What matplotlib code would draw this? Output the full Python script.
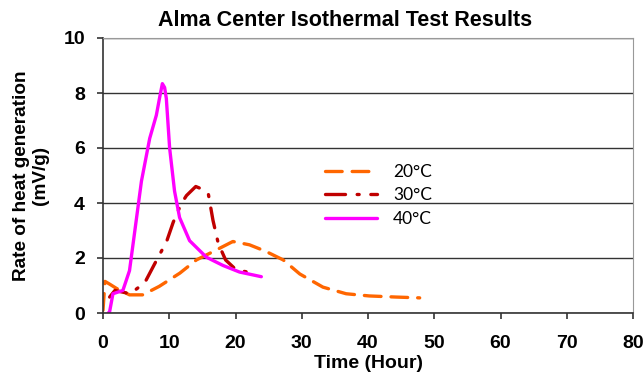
import matplotlib
matplotlib.use("Agg")
import matplotlib.pyplot as plt

plt.rcParams['font.family'] = ['Liberation Sans', 'DejaVu Sans']

t20 = [0.0, 0.3, 1.0, 2.0, 4.0, 6.0, 8.5, 11.6, 14.1, 16.6, 19.6, 22.1, 24.5, 27.2, 29.7, 33.2, 36.7, 40.2, 44.2, 47.8]
y20 = [0.1, 1.15, 1.05, 0.9, 0.66, 0.66, 0.97, 1.45, 1.93, 2.23, 2.6, 2.48, 2.25, 1.93, 1.42, 0.94, 0.7, 0.62, 0.58, 0.55]

t30 = [1.0, 1.8, 4.1, 6.3, 8.0, 9.6, 10.6, 11.8, 12.6, 14.0, 15.0, 15.9, 16.6, 17.4, 18.5, 20.1, 21.6]
y30 = [0.58, 0.82, 0.7, 1.1, 1.88, 2.6, 3.3, 3.97, 4.27, 4.6, 4.5, 4.33, 3.37, 2.53, 1.93, 1.57, 1.5]

t40 = [0.8, 1.0, 1.5, 3.0, 4.0, 4.8, 5.8, 7.05, 8.05, 8.6, 8.96, 9.3, 9.56, 10.06, 10.8, 11.56, 13.07, 15.6, 18.1, 20.6, 23.9]
y40 = [0.0, 0.05, 0.7, 0.82, 1.54, 2.98, 4.79, 6.35, 7.19, 7.9, 8.34, 8.2, 7.8, 5.99, 4.43, 3.47, 2.63, 2.03, 1.73, 1.49, 1.32]

labels = ['20\u00b0C', '30\u00b0C', '40\u00b0C']
xticks = [0, 10, 20, 30, 40, 50, 60, 70, 80]
yticks = [0, 2, 4, 6, 8, 10]

fig = plt.figure(figsize=(6.43, 3.80), dpi=100)
ax = fig.add_axes([103/643, 1-313/380, 530/643, 275/380])

ax.plot(t20, y20, color='#FF6600', lw=2.4, dashes=(5, 3), label=labels[0], dash_capstyle='round')
ax.plot(t30, y30, color='#C00000', lw=2.4, dashes=(6, 3.5, 0.6, 3.5), label=labels[1], dash_capstyle='round')
ax.plot(t40, y40, color='#FF00FF', lw=2.4, label=labels[2], solid_capstyle='round', solid_joinstyle='round')

ax.set_xlim(0, 80)
ax.set_ylim(0, 10)
ax.set_xticks(xticks)
ax.set_yticks(yticks)
ax.yaxis.grid(True, color='#333333', lw=1.0)
ax.set_axisbelow(True)
for s in ['top', 'right']:
    ax.spines[s].set_color('#999999')
for s in ['left', 'bottom']:
    ax.spines[s].set_color('#333333')
    ax.spines[s].set_linewidth(1.2)
ax.tick_params(direction='out', length=4, width=1.2, color='#333333', labelsize=14, pad=3)
for lab in ax.get_xticklabels() + ax.get_yticklabels():
    lab.set_fontweight('bold')
ax.tick_params(axis='x', pad=12)
ax.tick_params(axis='y', pad=9)

ax.set_title('Alma Center Isothermal Test Results', fontsize=15.5, fontweight='bold', pad=9, x=0.457)
ax.set_xlabel('Time (Hour)', fontsize=14, fontweight='bold', labelpad=2)
ax.set_ylabel('Rate of heat generation\n(mV/g)', fontsize=13.7, fontweight='bold', labelpad=10, linespacing=1.15)

leg = ax.legend(loc='upper left', bbox_to_anchor=(0.39, 0.60), frameon=False,
                prop={'family': ['Lato', 'DejaVu Sans'], 'size': 12.5},
                handlelength=3.0, labelspacing=0.45, handletextpad=0.9)

fig.savefig('out.png', dpi=100)
